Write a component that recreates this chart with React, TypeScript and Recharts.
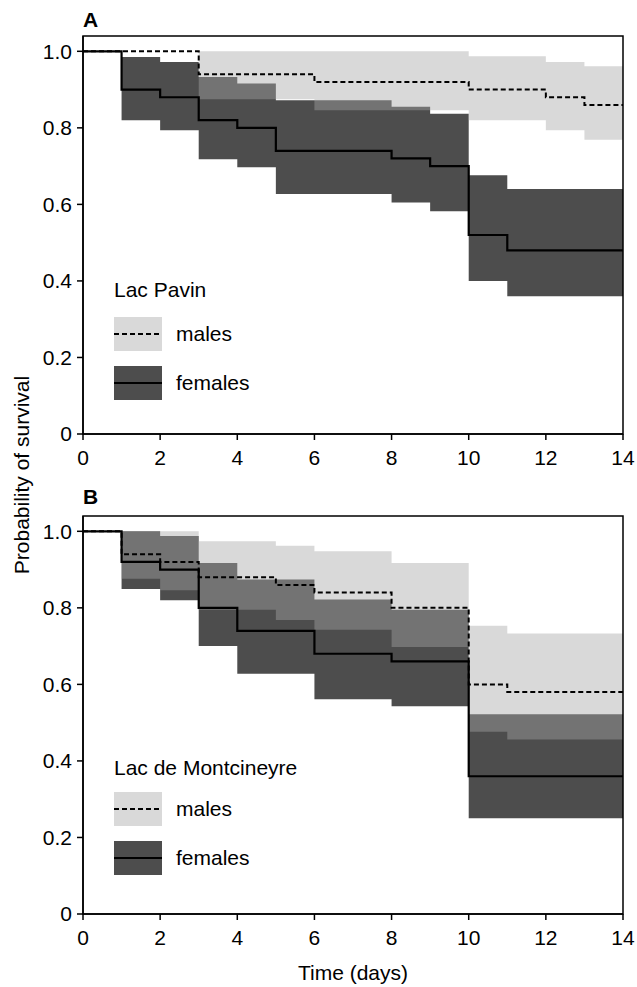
import { ComposedChart, Area, Line, XAxis, YAxis, ReferenceArea } from 'recharts';

// day index, each value holds from that day until the next one
const days = [0, 1, 2, 3, 4, 5, 6, 7, 8, 9, 10, 11, 12, 13, 14];
const xTicks = [0, 2, 4, 6, 8, 10, 12, 14];
const yTicks = [0, 0.2, 0.4, 0.6, 0.8, 1.0];

// Lac Pavin
const pavinMale = [1, 1, 1, 0.94, 0.94, 0.94, 0.92, 0.92, 0.92, 0.92, 0.9, 0.9, 0.88, 0.86, 0.86];
const pavinMaleHi = [null, null, null, 1, 1, 1, 1, 1, 1, 1, 0.987, 0.987, 0.972, 0.961, 0.961];
const pavinMaleLo = [null, null, null, 0.875, 0.875, 0.875, 0.846, 0.846, 0.846, 0.846, 0.82, 0.82, 0.794, 0.769, 0.769];
const pavinFemale = [1, 0.9, 0.88, 0.82, 0.8, 0.74, 0.74, 0.74, 0.72, 0.7, 0.52, 0.48, 0.48, 0.48, 0.48];
const pavinFemaleHi = [null, 0.985, 0.972, 0.933, 0.916, 0.872, 0.872, 0.872, 0.855, 0.837, 0.676, 0.64, 0.64, 0.64, 0.64];
const pavinFemaleLo = [null, 0.82, 0.794, 0.718, 0.697, 0.627, 0.627, 0.627, 0.605, 0.582, 0.4, 0.36, 0.36, 0.36, 0.36];

// Lac de Montcineyre
const montMale = [1, 0.94, 0.92, 0.88, 0.88, 0.86, 0.84, 0.84, 0.8, 0.8, 0.6, 0.58, 0.58, 0.58, 0.58];
const montMaleHi = [null, 1, 1, 0.974, 0.974, 0.962, 0.948, 0.948, 0.917, 0.917, 0.753, 0.733, 0.733, 0.733, 0.733];
const montMaleLo = [null, 0.876, 0.846, 0.795, 0.795, 0.768, 0.743, 0.743, 0.698, 0.698, 0.476, 0.456, 0.456, 0.456, 0.456];
const montFemale = [1, 0.92, 0.9, 0.8, 0.74, 0.74, 0.68, 0.68, 0.66, 0.66, 0.36, 0.36, 0.36, 0.36, 0.36];
const montFemaleHi = [null, 1, 0.988, 0.917, 0.874, 0.874, 0.822, 0.822, 0.795, 0.795, 0.522, 0.522, 0.522, 0.522, 0.522];
const montFemaleLo = [null, 0.849, 0.82, 0.7, 0.628, 0.628, 0.561, 0.561, 0.543, 0.543, 0.25, 0.25, 0.25, 0.25, 0.25];

const FONT = '"Liberation Sans", Arial, sans-serif';
const FS = 21;
const DARK = '#4d4d4d';
// translucent so that the overlap with the female band turns mid grey
const LIGHT = '#a6a6a6';
const LIGHT_OPACITY = 0.427;

function buildRows(male: number[], maleLo: any[], maleHi: any[], female: number[], femaleLo: any[], femaleHi: any[]) {
    return days.map((d, i) => ({
        day: d,
        male: male[i],
        female: female[i],
        maleBand: maleLo[i] == null ? null : [maleLo[i], maleHi[i]],
        femaleBand: femaleLo[i] == null ? null : [femaleLo[i], femaleHi[i]],
    }));
}

// top: title top, sw: male swatch top (female swatch 49px lower)
function LegendBox({ top, sw, title }: { top: number, sw: number, title: string }) {
    const text = { position: 'absolute' as const, left: 176, fontSize: FS, lineHeight: `${FS}px`, whiteSpace: 'nowrap' as const };
    return (
        <>
            <div style={{ ...text, left: 114, top }}>{title}</div>
            <svg style={{ position: 'absolute', left: 114, top: sw }} width={48} height={84}>
                <rect x={0} y={0} width={48} height={34} fill={LIGHT} fillOpacity={LIGHT_OPACITY} />
                <line x1={0} x2={48} y1={17} y2={17} stroke="#000" strokeWidth={2} strokeDasharray="5 3" />
                <rect x={0} y={49} width={48} height={34} fill={DARK} />
                <line x1={0} x2={48} y1={66} y2={66} stroke="#000" strokeWidth={2.2} />
            </svg>
            <div style={{ ...text, top: sw + 6 }}>males</div>
            <div style={{ ...text, top: sw + 55 }}>females</div>
        </>
    );
}

function Panel({ rows, height, bottomMargin, xHeight, xLabel }: { rows: any[], height: number, bottomMargin: number, xHeight: number, xLabel?: string }) {
    return (
        <ComposedChart width={637} height={height} data={rows} margin={{ top: 36, right: 14, bottom: bottomMargin, left: 23 }}>
            <XAxis
                dataKey="day"
                type="number"
                domain={[0, 14]}
                ticks={xTicks}
                height={xHeight}
                stroke="#000"
                strokeWidth={1.5}
                tickSize={6}
                tickMargin={10}
                tick={{ fontSize: FS, fill: '#000', fontFamily: FONT }}
                label={xLabel ? { value: xLabel, position: 'insideBottom', offset: 2, fontSize: FS, fill: '#000', fontFamily: FONT } : undefined}
            />
            <YAxis
                type="number"
                domain={[0, 1.04]}
                ticks={yTicks}
                width={60}
                stroke="#000"
                strokeWidth={1.5}
                tickSize={6}
                tickMargin={5}
                tickFormatter={(v: number) => (v === 0 ? '0' : v.toFixed(1))}
                tick={{ fontSize: FS, fill: '#000', fontFamily: FONT }}
            />
            <Area type="stepAfter" dataKey="femaleBand" fill={DARK} fillOpacity={1} stroke="none" isAnimationActive={false} />
            <Area type="stepAfter" dataKey="maleBand" fill={LIGHT} fillOpacity={LIGHT_OPACITY} stroke="none" isAnimationActive={false} />
            <Line type="stepAfter" dataKey="female" stroke="#000" strokeWidth={2.2} dot={false} activeDot={false} isAnimationActive={false} />
            <Line type="stepAfter" dataKey="male" stroke="#000" strokeWidth={2} strokeDasharray="5 3" dot={false} activeDot={false} isAnimationActive={false} />
            <ReferenceArea x1={0} x2={14} y1={0} y2={1.04} fill="none" stroke="#000" strokeWidth={1.5} />
        </ComposedChart>
    );
}

export default function App() {
    const pavinRows = buildRows(pavinMale, pavinMaleLo, pavinMaleHi, pavinFemale, pavinFemaleLo, pavinFemaleHi);
    const montRows = buildRows(montMale, montMaleLo, montMaleHi, montFemale, montFemaleLo, montFemaleHi);

    return (
        <div style={{ position: 'absolute', left: 0, top: 0, width: 637, height: 987, background: '#fff', fontFamily: FONT, color: '#000' }}>
            {/* A: Lac Pavin */}
            <div style={{ position: 'absolute', left: 0, top: 0 }}>
                <Panel rows={pavinRows} height={470} bottomMargin={6} xHeight={30} />
            </div>
            <div style={{ position: 'absolute', left: 83, top: 9, fontSize: FS, lineHeight: `${FS}px`, fontWeight: 700 }}>A</div>
            <LegendBox top={279} sw={317} title="Lac Pavin" />

            {/* B: Lac de Montcineyre */}
            <div style={{ position: 'absolute', left: 0, top: 480 }}>
                <Panel rows={montRows} height={507} bottomMargin={5} xHeight={68} xLabel="Time (days)" />
            </div>
            <div style={{ position: 'absolute', left: 83, top: 486, fontSize: FS, lineHeight: `${FS}px`, fontWeight: 700 }}>B</div>
            <LegendBox top={757} sw={792} title="Lac de Montcineyre" />

            <div style={{ position: 'absolute', left: 21, top: 475, transform: 'translate(-50%, -50%) rotate(-90deg)', fontSize: FS, lineHeight: `${FS}px`, whiteSpace: 'nowrap' }}>
                Probability of survival
            </div>
        </div>
    );
}
